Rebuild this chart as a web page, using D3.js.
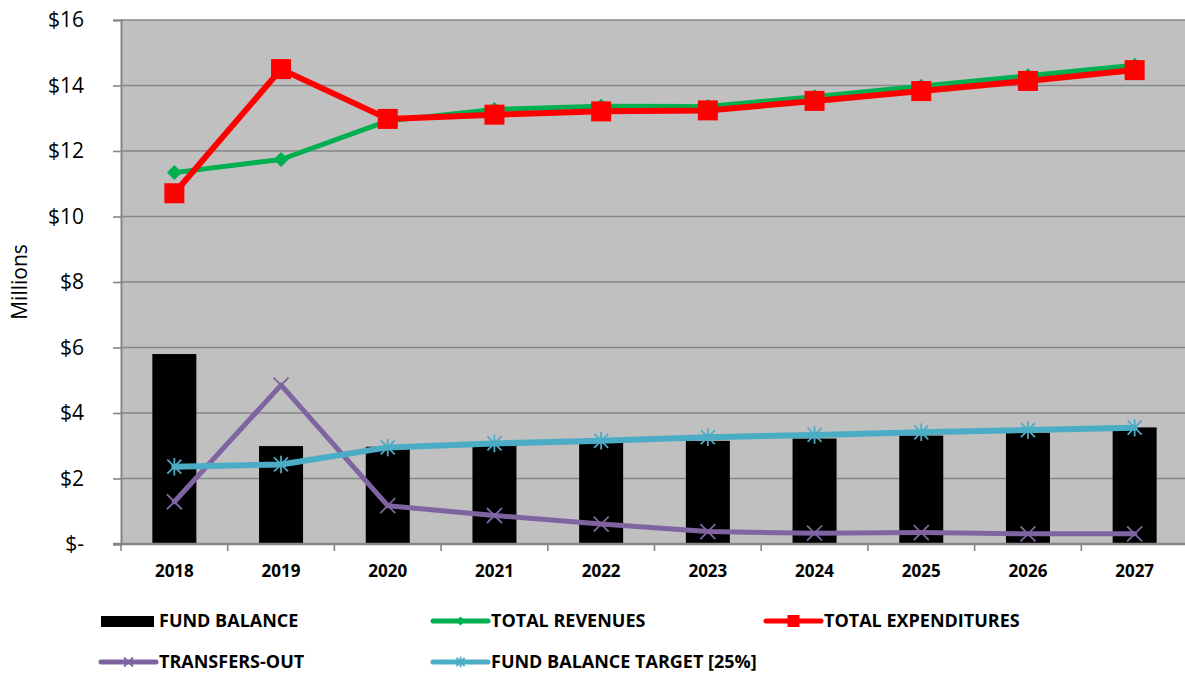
<!DOCTYPE html>
<html>
<head>
<meta charset="utf-8">
<script src="https://cdn.jsdelivr.net/npm/d3@7/dist/d3.min.js"></script>
<style>
  html, body { margin: 0; padding: 0; background: #ffffff; }
  svg { display: block; }
  text { font-family: "Open Sans", "Noto Sans", sans-serif; }
</style>
</head>
<body>
<svg id="chart" width="1185" height="675"></svg>
<script>
// Fund projection, values in millions of dollars
const years = ["2018", "2019", "2020", "2021", "2022", "2023", "2024", "2025", "2026", "2027"];
const fundBalance = [5.80, 2.99, 2.97, 3.07, 3.09, 3.15, 3.22, 3.31, 3.40, 3.56];
const totalRevenues = [11.34, 11.74, 12.92, 13.27, 13.37, 13.36, 13.66, 13.98, 14.30, 14.62];
const totalExpenditures = [10.71, 14.50, 12.98, 13.11, 13.21, 13.24, 13.53, 13.83, 14.14, 14.47];
const transfersOut = [1.29, 4.85, 1.17, 0.87, 0.61, 0.38, 0.33, 0.35, 0.31, 0.31];
const fundTarget = [2.36, 2.43, 2.95, 3.07, 3.15, 3.26, 3.33, 3.41, 3.48, 3.55];
const yTicks = [0, 2, 4, 6, 8, 10, 12, 14, 16];

const svg = d3.select("#chart");
const plotLeft = 121, plotTop = 20, plotRight = 1188, plotBottom = 544;

const x = d3.scaleBand().domain(years).range([plotLeft, plotRight]).paddingInner(0).paddingOuter(0);
const y = d3.scaleLinear().domain([0, 16]).range([plotBottom, plotTop]);
const cx = d => x(d) + x.bandwidth() / 2;

// plot area
svg.append("rect")
  .attr("x", plotLeft).attr("y", plotTop)
  .attr("width", plotRight - plotLeft).attr("height", plotBottom - plotTop)
  .attr("fill", "#c0c0c0");

// horizontal gridlines
svg.append("g")
  .selectAll("line")
  .data(yTicks.filter(t => t > 0))
  .join("line")
  .attr("x1", plotLeft).attr("x2", plotRight)
  .attr("y1", d => y(d)).attr("y2", d => y(d))
  .attr("stroke", "#868686").attr("stroke-width", 1.6);

// y axis
const yAxis = svg.append("g")
  .attr("transform", `translate(${plotLeft},0)`)
  .call(d3.axisLeft(y).tickValues(yTicks).tickSize(8).tickPadding(29)
    .tickFormat(d => d === 0 ? "$-" : "$" + d));
yAxis.select(".domain").attr("stroke", "#868686").attr("stroke-width", 2);
yAxis.selectAll(".tick line").attr("stroke", "#868686").attr("stroke-width", 1.6);
yAxis.selectAll(".tick text")
  .attr("font-size", 21).attr("fill", "#000")
  .style("font-family", "'Open Sans', sans-serif");

// y axis title
svg.append("text")
  .attr("transform", "translate(20,282) rotate(-90)")
  .attr("text-anchor", "middle")
  .attr("dy", "0.35em")
  .attr("font-size", 21)
  .attr("fill", "#000")
  .text("Millions");

// fund balance bars
const barW = 44;
svg.append("g")
  .selectAll("rect")
  .data(years.map((yr, i) => ({ yr, v: fundBalance[i] })))
  .join("rect")
  .attr("x", d => cx(d.yr) - barW / 2)
  .attr("y", d => y(d.v))
  .attr("width", barW)
  .attr("height", d => y(0) - y(d.v))
  .attr("fill", "#000");

// x axis
const xAxis = svg.append("g")
  .attr("transform", `translate(0,${plotBottom})`)
  .call(d3.axisBottom(x).tickSize(0).tickPadding(21));
xAxis.select(".domain").remove();
xAxis.selectAll(".tick text")
  .attr("font-size", 17).attr("font-weight", "bold").attr("fill", "#000");
svg.append("line")
  .attr("x1", plotLeft - 8).attr("x2", plotRight)
  .attr("y1", plotBottom).attr("y2", plotBottom)
  .attr("stroke", "#868686").attr("stroke-width", 2.5);
svg.append("g")
  .selectAll("line")
  .data(years)
  .join("line")
  .attr("x1", d => x(d)).attr("x2", d => x(d))
  .attr("y1", plotBottom).attr("y2", plotBottom + 7)
  .attr("stroke", "#868686").attr("stroke-width", 1.6);

// marker shapes
function drawMarker(g, type, color, px, py, s) {
  if (type === "diamond") {
    g.append("path")
      .attr("d", `M${px},${py - s}L${px + s},${py}L${px},${py + s}L${px - s},${py}Z`)
      .attr("fill", color);
  } else if (type === "square") {
    g.append("rect")
      .attr("x", px - s).attr("y", py - s)
      .attr("width", 2 * s).attr("height", 2 * s)
      .attr("fill", color);
  } else if (type === "x") {
    g.append("path")
      .attr("d", `M${px - s},${py - s}L${px + s},${py + s}M${px - s},${py + s}L${px + s},${py - s}`)
      .attr("stroke", color).attr("stroke-width", 1.8).attr("fill", "none");
  } else if (type === "star") {
    g.append("path")
      .attr("d", `M${px - s},${py - s}L${px + s},${py + s}M${px - s},${py + s}L${px + s},${py - s}M${px},${py - s * 1.25}L${px},${py + s * 1.25}`)
      .attr("stroke", color).attr("stroke-width", 1.8).attr("fill", "none");
  }
}

const series = [
  { name: "TOTAL REVENUES", values: totalRevenues, color: "#00b050", width: 5, marker: "diamond", size: 7.5 },
  { name: "TOTAL EXPENDITURES", values: totalExpenditures, color: "#ff0000", width: 6, marker: "square", size: 10 },
  { name: "TRANSFERS-OUT", values: transfersOut, color: "#8064a2", width: 5, marker: "x", size: 7.5 },
  { name: "FUND BALANCE TARGET [25%]", values: fundTarget, color: "#4bacc6", width: 6, marker: "star", size: 7 }
];

const line = d3.line().x(d => cx(d.yr)).y(d => y(d.v));

series.forEach(s => {
  const pts = years.map((yr, i) => ({ yr, v: s.values[i] }));
  const g = svg.append("g");
  g.append("path")
    .datum(pts)
    .attr("d", line)
    .attr("fill", "none")
    .attr("stroke", s.color)
    .attr("stroke-width", s.width)
    .attr("stroke-linejoin", "round")
    .attr("stroke-linecap", "round");
  pts.forEach(p => drawMarker(g, s.marker, s.color, cx(p.yr), y(p.v), s.size));
});

// legend
const legendItems = [
  { name: "FUND BALANCE", kind: "bar", color: "#000", lx: 101, ly: 621 },
  { name: "TOTAL REVENUES", kind: "line", s: series[0], lx: 433, ly: 621 },
  { name: "TOTAL EXPENDITURES", kind: "line", s: series[1], lx: 766, ly: 621 },
  { name: "TRANSFERS-OUT", kind: "line", s: series[2], lx: 101, ly: 662 },
  { name: "FUND BALANCE TARGET [25%]", kind: "line", s: series[3], lx: 433, ly: 662 }
];
const lg = svg.append("g");
legendItems.forEach(it => {
  const g = lg.append("g");
  if (it.kind === "bar") {
    g.append("rect")
      .attr("x", it.lx).attr("y", it.ly - 5)
      .attr("width", 53).attr("height", 11)
      .attr("fill", it.color);
  } else {
    g.append("line")
      .attr("x1", it.lx).attr("x2", it.lx + 55)
      .attr("y1", it.ly).attr("y2", it.ly)
      .attr("stroke", it.s.color).attr("stroke-width", 5)
      .attr("stroke-linecap", "round");
    drawMarker(g, it.s.marker, it.s.color, it.lx + 27.5, it.ly, it.s.size * 0.6);
  }
  g.append("text")
    .attr("x", it.lx + 58)
    .attr("y", it.ly)
    .attr("dy", "0.35em")
    .attr("font-size", 18)
    .attr("font-weight", "bold")
    .attr("fill", "#000")
    .text(it.name);
});
</script>
</body>
</html>
